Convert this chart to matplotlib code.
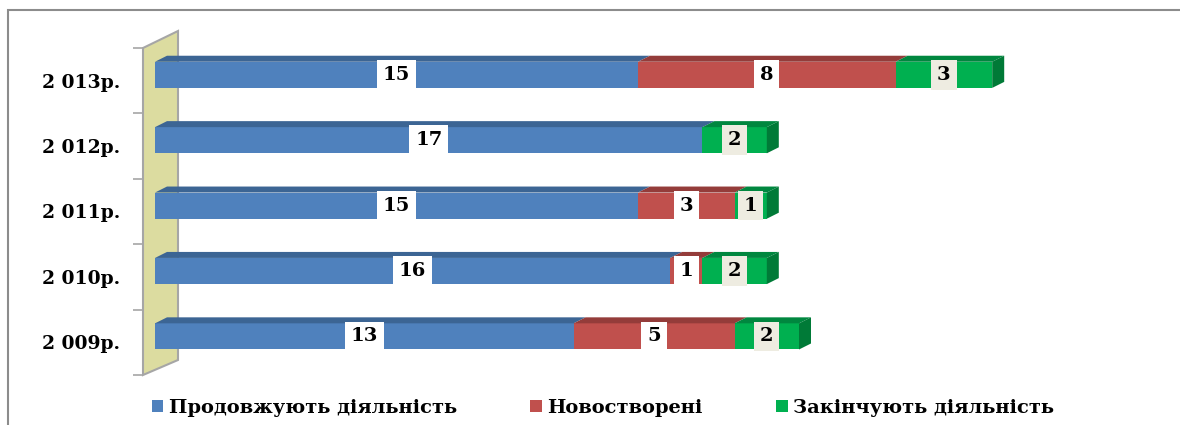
import numpy as np
import matplotlib.pyplot as plt
from matplotlib.patches import Polygon, Rectangle, Patch

years = ['2 009р.', '2 010р.', '2 011р.', '2 012р.', '2 013р.']
continuing = [13, 16, 15, 17, 15]
new_ones = [5, 1, 3, 0, 8]
closing = [2, 2, 1, 2, 3]
series_names = ['Продовжують діяльність', 'Новостворені', 'Закінчують діяльність']

front_colors = ['#4f81bd', '#c0504d', '#00b050']
top_colors = ['#3c6594', '#943c3a', '#00873f']
side_color = '#007a37'
label_bg = ['white', 'white', '#eeece1']

W, H = 1180, 425
fig = plt.figure(figsize=(W / 100, H / 100), dpi=100)
ax = fig.add_axes([155 / W, 50 / H, 966 / W, 327 / H])
ax.set_xlim(0, 30)
ax.set_ylim(-0.5, 4.5)
# size of one pixel in data units
px_x = 30 / 966
px_y = 5 / 327
pt = 72 / 100  # points per pixel

font = {'family': 'DejaVu Serif', 'weight': 'bold'}

# back wall
wall = Polygon([(-12 * px_x, -0.5), (-12 * px_x, 4.5),
                (23 * px_x, 4.5 + 17 * px_y), (23 * px_x, -0.5 + 15 * px_y)],
               closed=True, facecolor='#dcdca0', edgecolor='#a6a6a6',
               lw=1.5, clip_on=False, zorder=1)
ax.add_patch(wall)

y = np.arange(len(years)) + 0.09
h = 0.40
dx, dy = 12 * px_x, 6 * px_y

left = np.zeros(len(years))
for vals, fc, tc, bg in zip([continuing, new_ones, closing], front_colors, top_colors, label_bg):
    vals = np.array(vals, dtype=float)
    ax.barh(y, vals, left=left, height=h, color=fc, zorder=3)
    for yi, l, v in zip(y, left, vals):
        if v == 0:
            continue
        t = yi + h / 2
        ax.add_patch(Polygon([(l, t), (l + v, t), (l + v + dx, t + dy), (l + dx, t + dy)],
                             closed=True, facecolor=tc, edgecolor='none', zorder=3, clip_on=False))
        ax.text(l + v / 2, yi, str(int(v)), ha='center', va='center', fontsize=14, zorder=5,
                bbox=dict(boxstyle='square,pad=0.3', facecolor=bg, edgecolor='none'), **font)
    left += vals

# right side face of every bar
for yi, r in zip(y, left):
    ax.add_patch(Polygon([(r, yi + h / 2), (r + dx, yi + h / 2 + dy),
                          (r + dx, yi - h / 2 + dy), (r, yi - h / 2)],
                         closed=True, facecolor=side_color, edgecolor='none', zorder=3, clip_on=False))

ax.spines['left'].set_position(('outward', 12 * pt))
ax.set_yticks(np.arange(len(years)))
ax.set_yticklabels(years, **font, fontsize=13.5)
ax.set_yticks(np.arange(len(years) + 1) - 0.5, minor=True)
ax.tick_params(axis='y', which='major', length=0, pad=23 * pt)
ax.tick_params(axis='y', which='minor', length=10 * pt, color='#a6a6a6', width=1.2)
ax.set_xticks([])
for s in ['top', 'right', 'bottom', 'left']:
    ax.spines[s].set_visible(False)

handles = [Patch(facecolor=c) for c in front_colors]
fig.legend(handles, series_names, loc='center', bbox_to_anchor=(603 / W, 17 / H), ncol=3,
           frameon=False, prop=dict(family='DejaVu Serif', weight='bold', size=14),
           handlelength=0.6, handleheight=0.6, handletextpad=0.3, columnspacing=3.75)

# outer frame
fig.patches.append(Rectangle((8 / W, -0.1), 1.0, 1.1 - 10 / H, transform=fig.transFigure,
                             fill=False, edgecolor='#8c8c8c', lw=1.5))

fig.savefig('out.png', dpi=100)
